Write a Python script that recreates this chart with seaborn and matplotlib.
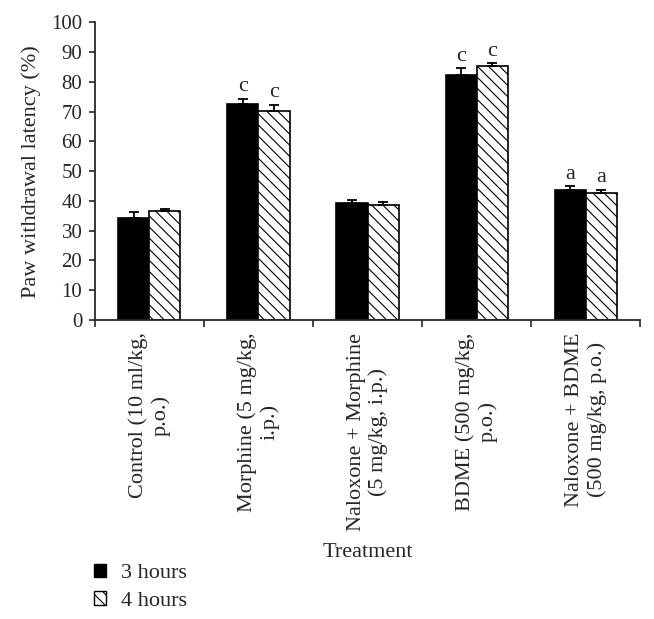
import numpy as np
import pandas as pd
import matplotlib
matplotlib.use("Agg")
import matplotlib.pyplot as plt
import seaborn as sns
from matplotlib.patches import Patch

# data
treatments = ["Control (10 ml/kg,\np.o.)", "Morphine (5 mg/kg,\ni.p.)",
              "Naloxone + Morphine\n(5 mg/kg, i.p.)", "BDME (500 mg/kg,\np.o.)",
              "Naloxone + BDME\n(500 mg/kg, p.o.)"]
hours = ["3 hours", "4 hours"]
mean_3h = [34.2, 72.6, 39.4, 82.2, 43.6]
mean_4h = [36.6, 70.3, 38.7, 85.3, 42.8]
err_3h = [2.0, 1.8, 1.0, 2.3, 1.3]
err_4h = [0.8, 2.0, 0.8, 1.0, 1.0]
sig_3h = ["", "c", "", "c", "a"]
sig_4h = ["", "c", "", "c", "a"]

df = pd.DataFrame({
    "Treatment": treatments * 2,
    "Time": [hours[0]] * 5 + [hours[1]] * 5,
    "value": mean_3h + mean_4h,
})

sns.set_style("ticks")
plt.rcParams["font.family"] = ["Liberation Serif", "DejaVu Serif"]
plt.rcParams["hatch.linewidth"] = 0.8

fig = plt.figure(figsize=(6.54, 6.19), dpi=100)
ax = fig.add_axes([0.145, 0.483, 0.834, 0.481])

sns.barplot(data=df, x="Treatment", y="value", hue="Time", order=treatments,
            hue_order=hours, palette=["black", "white"], width=0.57,
            edgecolor="black", linewidth=1.2, errorbar=None, legend=False, ax=ax)

errs = [err_3h, err_4h]
sigs = [sig_3h, sig_4h]
bar_groups = list(ax.containers)
for k, cont in enumerate(bar_groups):
    for i, bar in enumerate(cont):
        if k == 1:
            bar.set_hatch("\\\\\\")
        cx = bar.get_x() + bar.get_width() / 2
        top = bar.get_height()
        ax.errorbar(cx, top, yerr=[[0], [errs[k][i]]], fmt="none", ecolor="black",
                    elinewidth=1.3, capsize=3.6, capthick=1.3)
        if sigs[k][i]:
            ax.text(cx, top + errs[k][i] + 0.8, sigs[k][i], ha="center", va="bottom",
                    fontsize=16)

ax.set_ylim(0, 100)
ax.set_xlim(-0.5, 4.5)
ax.set_yticks(np.arange(0, 101, 10))
ax.tick_params(axis="y", labelsize=15, length=4, width=1.2, pad=5)
ax.set_xticks(range(5))
ax.set_xticklabels(treatments, rotation=90, ha="center", va="top",
                   multialignment="center", fontsize=16)
ax.tick_params(axis="x", length=0, pad=9)
ax.set_xticks(np.arange(-0.5, 5, 1), minor=True)
ax.tick_params(axis="x", which="minor", length=5, width=1.2)
sns.despine(ax=ax)
for s in ["left", "bottom"]:
    ax.spines[s].set_linewidth(1.3)

ax.set_ylabel("Paw withdrawal latency (%)", fontsize=16, labelpad=7)
ax.set_xlabel("Treatment", fontsize=16, labelpad=9)

handles = [Patch(facecolor="black", edgecolor="black", label=hours[0]),
           Patch(facecolor="white", edgecolor="black", hatch="\\\\\\", label=hours[1])]
fig.legend(handles=handles, loc="upper left", bbox_to_anchor=(0.143, 0.089),
           frameon=False, fontsize=16, handlelength=0.55, handleheight=0.55,
           handletextpad=0.7, labelspacing=0.35, borderpad=0, borderaxespad=0)

fig.savefig("out.png", dpi=100)
